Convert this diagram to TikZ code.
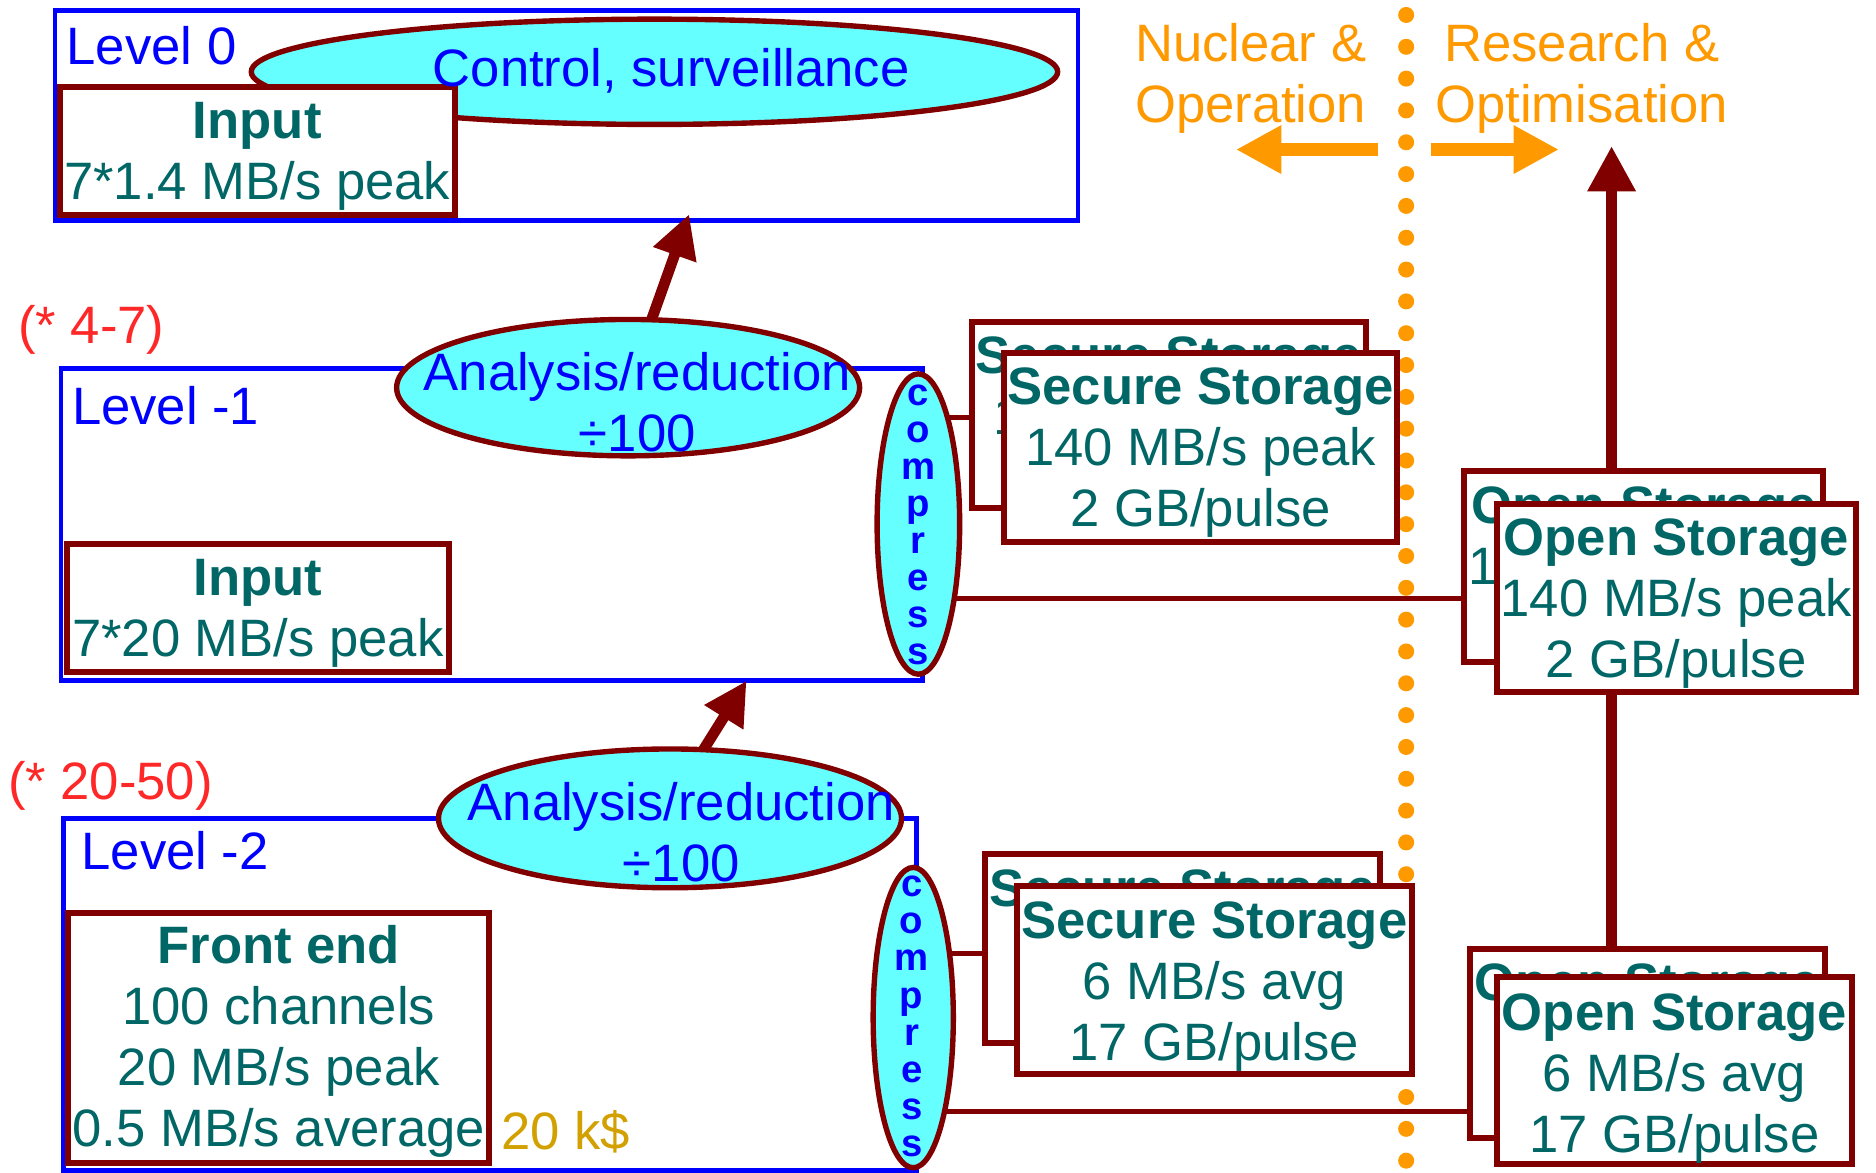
\documentclass[tikz,border=0pt]{standalone}
\usepackage{fontspec}
\setmainfont{Liberation Sans}
\usetikzlibrary{shapes.geometric,arrows.meta}
\definecolor{lvlblue}{RGB}{0,0,255}
\definecolor{dred}{RGB}{128,0,0}
\definecolor{cyanfill}{RGB}{102,255,255}
\definecolor{tealtxt}{RGB}{0,102,102}
\definecolor{orng}{RGB}{255,153,0}
\definecolor{redtxt}{RGB}{255,40,40}
\definecolor{goldtxt}{RGB}{210,160,0}
\newcommand\mysize{\fontsize{44}{51}\selectfont}
\newcommand\compsize{\fontsize{32}{31}\selectfont\bfseries}
\pgfdeclarelayer{background}
\pgfdeclarelayer{links}
\pgfsetlayers{background,links,main}
\tikzset{
  levelbox/.style={draw=lvlblue, line width=4pt, rectangle, inner sep=0pt, outer sep=0pt},
  databox/.style={draw=dred, fill=white, line width=5pt, rectangle, inner sep=0pt, outer sep=0pt},
  procell/.style={ellipse, draw=dred, fill=cyanfill, line width=4.5pt, inner sep=0pt, outer sep=0pt},
  boxtext/.style={font=\mysize, text=tealtxt, align=center, inner sep=0pt, anchor=base},
  proctext/.style={font=\mysize, text=lvlblue, align=center, inner sep=0pt, anchor=base},
  comptext/.style={font=\compsize, text=lvlblue, align=center, inner sep=0pt, anchor=base},
  lbltext/.style={font=\mysize, inner sep=0pt, anchor=base west},
  sidetext/.style={font=\mysize, text=orng, inner sep=0pt, anchor=base},
  link/.style={draw=dred, line width=4.5pt},
  heavylink/.style={draw=dred, line width=9.5pt},
  flowarrow/.style={draw=dred, line width=9pt, -{Triangle[length=36pt,width=36pt]}},
  uparrow/.style={draw=dred, line width=9.5pt, -{Triangle[length=38pt,width=38pt]}},
  sidearrow/.style={draw=orng, line width=10.5pt, -{Triangle[length=38pt,width=38pt]}},
}
\begin{document}
\begin{tikzpicture}[x=1pt,y=-1pt]
\useasboundingbox (0,0) rectangle (1568,980);
\begin{pgfonlayer}{background}
  \foreach \i in {0,...,36} \fill[orng] (1175.3,{12.5+26.6*\i}) circle[radius=6.7];
  \node[levelbox, minimum width=855pt, minimum height=175pt] (lvl0) at (473.5,96.5) {};
  \node[levelbox, minimum width=720pt, minimum height=260.5pt] (lvl1) at (411,438.2) {};
  \node[levelbox, minimum width=713pt, minimum height=294pt] (lvl2) at (409.5,831) {};
\end{pgfonlayer}

% processing ellipses
\node[procell, minimum width=674pt, minimum height=88pt] (ctrl) at (547,60) {};
\node[procell, minimum width=387pt, minimum height=114pt] (ana1) at (525,324) {};
\node[procell, minimum width=387pt, minimum height=116pt] (ana2) at (560,684) {};
\node[procell, minimum width=69pt, minimum height=251pt] (comp1) at (767.6,438) {};
\node[procell, minimum width=67pt, minimum height=251pt] (comp2) at (763.3,850.5) {};

% input boxes (text nodes anchored at the baseline of their last line)
\node[databox, minimum width=330pt, minimum height=107pt] (in0) at (215,126.5) {};
\node[boxtext] (tin0) at (215,167) {\textbf{Input}\\7*1.4 MB/s peak};
\node[databox, minimum width=319pt, minimum height=107.5pt] (in1) at (215.5,508.2) {};
\node[boxtext] (tin1) at (215.5,549) {\textbf{Input}\\7*20 MB/s peak};
\node[databox, minimum width=352pt, minimum height=209pt] (fe) at (233,867.5) {};
\node[boxtext] (tfe) at (233,958) {\textbf{Front end}\\100 channels\\20 MB/s peak\\0.5 MB/s average};

% storage boxes level -1
\node[databox, minimum width=330pt, minimum height=156pt] (sec1b) at (977,347) {};
\node[boxtext] (tsec1b) at (977,414.5) {\textbf{Secure Storage}\\140 MB/s peak\\2 GB/pulse};
\node[databox, minimum width=329pt, minimum height=158pt] (sec1f) at (1003.5,374) {};
\node[boxtext] (tsec1f) at (1003.5,440) {\textbf{Secure Storage}\\140 MB/s peak\\2 GB/pulse};
\node[databox, minimum width=300pt, minimum height=159pt] (open1b) at (1374,473.5) {};
\node[boxtext] (topen1b) at (1374,539.5) {\textbf{Open Storage}\\140 MB/s peak\\2 GB/pulse};
\node[databox, minimum width=300pt, minimum height=156.5pt] (open1f) at (1401,499.8) {};
\node[boxtext] (topen1f) at (1401,566) {\textbf{Open Storage}\\140 MB/s peak\\2 GB/pulse};

% storage boxes level -2
\node[databox, minimum width=330.5pt, minimum height=158pt] (sec2b) at (988.2,793) {};
\node[boxtext] (tsec2b) at (988.2,859.5) {\textbf{Secure Storage}\\6 MB/s avg\\17 GB/pulse};
\node[databox, minimum width=330pt, minimum height=157.4pt] (sec2f) at (1015,819.3) {};
\node[boxtext] (tsec2f) at (1015,886) {\textbf{Secure Storage}\\6 MB/s avg\\17 GB/pulse};
\node[databox, minimum width=296pt, minimum height=158.5pt] (open2b) at (1377,872.2) {};
\node[boxtext] (topen2b) at (1377,938.5) {\textbf{Open Storage}\\6 MB/s avg\\17 GB/pulse};
\node[databox, minimum width=296pt, minimum height=156.6pt] (open2f) at (1399.6,894.7) {};
\node[boxtext] (topen2f) at (1399.6,963) {\textbf{Open Storage}\\6 MB/s avg\\17 GB/pulse};

% connector end points
\coordinate (s1) at (812,349);
\coordinate (o1) at (1224,500);
\coordinate (s2) at (823,797);
\coordinate (o2) at (1229,929);
\coordinate (up) at (1347,122);
\coordinate (tip0) at (576,179);
\coordinate (tip1) at (624,569);
\coordinate (nucTail) at (1152,125);
\coordinate (nucTip) at (1033,125);
\coordinate (resTail) at (1196,125);
\coordinate (resTip) at (1303,125);

\begin{pgfonlayer}{links}
  \draw[link] (comp1.center |- s1) -- (s1);
  \draw[link] (comp1.center |- o1) -- (o1);
  \draw[link] (comp2.center |- s2) -- (s2);
  \draw[link] (comp2.center |- o2) -- (o2);
  \draw[heavylink] (open1f.south -| up) -- (open2b.north -| up);
  \draw[uparrow] (open1b.north -| up) -- (up);
\end{pgfonlayer}

% flow arrows
\draw[flowarrow] (ana1.71) -- (tip0);
\draw[flowarrow] (ana2.64) -- (tip1);
\draw[sidearrow] (nucTail) -- (nucTip);
\draw[sidearrow] (resTail) -- (resTip);

% texts
\node[proctext] (tctrl) at (561,72) {Control, surveillance};
\node[proctext] (tana1) at (532.6,377.3) {Analysis/reduction\\÷100};
\node[proctext] (tana2) at (569.4,736.8) {Analysis/reduction\\÷100};
\node[comptext] (tcomp1) at (767.6,555.5) {c\\o\\m\\p\\r\\e\\s\\s};
\node[comptext] (tcomp2) at (762,966.5) {c\\o\\m\\p\\r\\e\\s\\s};
\node[lbltext, text=lvlblue] (l0) at (55.5,54.3) {Level 0};
\node[lbltext, text=lvlblue] (l1) at (60,355) {Level -1};
\node[lbltext, text=lvlblue] (l2) at (68,727) {Level -2};
\node[lbltext, text=redtxt] (mult1) at (15,286.8) {(* 4-7)};
\node[lbltext, text=redtxt] (mult2) at (6.5,668) {(* 20-50)};
\node[lbltext, text=goldtxt] (cost) at (419,961) {20 k\$};
\node[sidetext, align=left, anchor=base west] (nuc) at (948.5,102.5) {Nuclear \&\\Operation};
\node[sidetext, align=center] (res) at (1322,102.5) {Research \&\\Optimisation};
\end{tikzpicture}
\end{document}
